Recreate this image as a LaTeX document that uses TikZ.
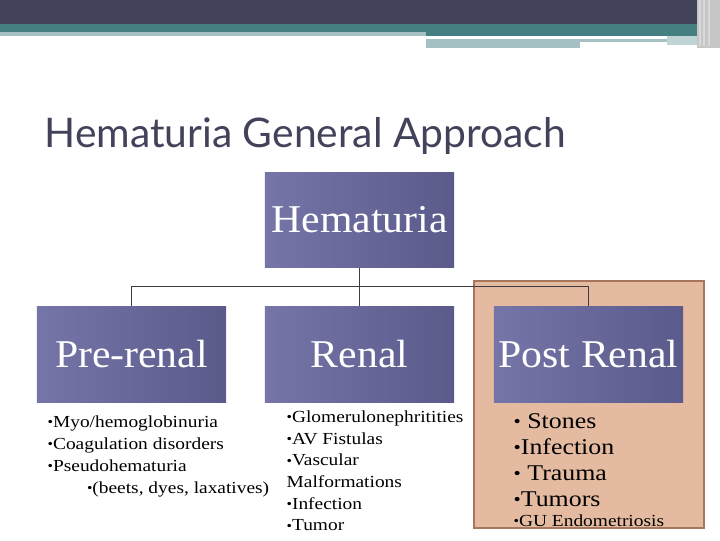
\documentclass[tikz,border=0pt]{standalone}
\usepackage{fontspec}
\setmainfont{Liberation Serif}
\newfontfamily\boxfont{Liberation Serif}[FakeStretch=1.06]
\newfontfamily\listfont{Liberation Serif}[FakeStretch=1.15]
\newfontfamily\titlefont{Lato}
\usetikzlibrary{positioning}
\definecolor{cdark}{HTML}{42435A}
\definecolor{cteal}{HTML}{467F82}
\definecolor{clight}{HTML}{A6C1C3}
\definecolor{cboxl}{HTML}{7575A8}
\definecolor{cboxr}{HTML}{5A5A8B}
\definecolor{cpeach}{HTML}{E4BBA0}
\definecolor{cbrown}{HTML}{A8765C}
\definecolor{cline}{HTML}{3C3C44}
\newcommand\bul{\raisebox{0.1ex}{\scalebox{0.8}{•}}}
\tikzset{
  every picture/.style={line width=0.9pt},
  box/.style={left color=cboxl, right color=cboxr, minimum width=4.725cm, minimum height=2.375cm,
    inner sep=0pt, text=white, font=\boxfont\fontsize{28}{30}\selectfont},
  conn/.style={draw=cline, line width=0.9pt},
  list/.style={anchor=north west, align=left, inner sep=0pt},
  title/.style={text=cdark, inner sep=0pt, font=\titlefont\fontsize{29}{31}\selectfont},
}
\begin{document}
\begin{tikzpicture}[x=0.025cm, y=-0.025cm]
  \useasboundingbox (0,0) rectangle (720,540);
  % banner
  \fill[cdark] (0,0) rectangle (720,24);
  \fill[cteal] (0,24) rectangle (720,32);
  \fill[cteal] (426,32) rectangle (700,36);
  \fill[clight] (0,32) rectangle (426,36);
  \fill[clight] (426,39) rectangle (667,42);
  \fill[clight] (426,42) rectangle (580,48);
  \fill[clight!70] (667,36) rectangle (700,45);
  \fill[gray!45] (697,0) rectangle (720,48);
  \foreach \x in {699,703,708} \fill[white!70!gray] (\x,0) rectangle ++(1.5,46);
  \node[title, anchor=base west] (ttl) at (44,147) {Hematuria General Approach};
  % post renal backdrop
  \draw[cbrown, fill=cpeach, line width=0.8pt] (474,281) rectangle (704,528);
  \node[box] (hem) at (359.5,220) {Hematuria};
  \node[box] (pre) at (131.5,354.5) {Pre-renal};
  \node[box] (ren) at (359.5,354.5) {Renal};
  \node[box] (post) at (588.5,354.5) {Post Renal};
  \draw[conn] (hem) -- (ren);
  \draw[conn] (pre.north) -- ++(0,-20) -| (post.north);
  \node[list, font=\listfont\fontsize{12}{15.6}\selectfont] (prel) at (47,415)
    {\bul Myo/hemoglobinuria\\\bul Coagulation disorders\\\bul Pseudohematuria\\
     \hspace*{28pt}\bul(beets, dyes, laxatives)};
  \node[list, font=\listfont\fontsize{12}{15.45}\selectfont] (renl) at (286,410)
    {\bul Glomerulonephritities\\\bul AV Fistulas\\\bul Vascular\\Malformations\\\bul Infection\\\bul Tumor};
  \node[list, font=\listfont\fontsize{16}{18.4}\selectfont] (postl) at (513,413)
    {\bul\ Stones\\\bul Infection\\\bul\ Trauma\\\bul Tumors\\[-4pt]
     {\fontsize{12}{14}\selectfont\bul GU Endometriosis}};
\end{tikzpicture}
\end{document}
